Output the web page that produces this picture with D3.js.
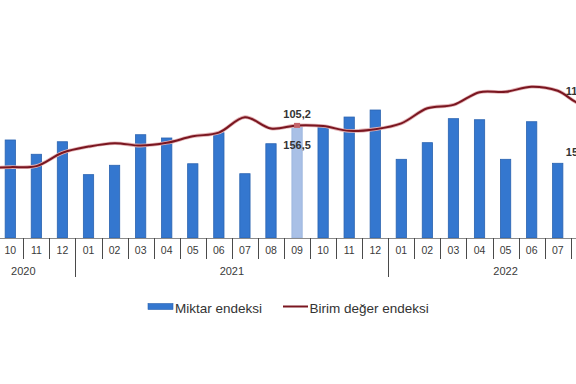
<!DOCTYPE html>
<html>
<head>
<meta charset="utf-8">
<script src="https://cdn.jsdelivr.net/npm/d3@7"></script>
<style>
  body { margin: 0; background: #fff; }
  svg { display: block; }
</style>
</head>
<body>
<svg id="chart"></svg>
<script>
const WIDTH = 576;
const HEIGHT = 384;

// months shown (first and last two fall outside the cropped frame)
const months = ["09", "10", "11", "12",
  "01", "02", "03", "04", "05", "06", "07", "08", "09", "10", "11", "12",
  "01", "02", "03", "04", "05", "06", "07", "08", "09"];
const years = ["2020", "2020", "2020", "2020",
  "2021", "2021", "2021", "2021", "2021", "2021", "2021", "2021", "2021", "2021", "2021", "2021",
  "2022", "2022", "2022", "2022", "2022", "2022", "2022", "2022", "2022"];
const yearNames = ["2020", "2021", "2022"];

// Miktar endeksi (bars)
const quantity = [147.0, 143.7, 131.5, 142.2,
  114.1, 122.1, 148.2, 145.4, 123.4, 149.9, 114.9, 140.5, 156.5, 155.0, 163.3, 169.3,
  127.2, 141.4, 161.9, 161.0, 127.2, 159.3, 123.8, 145.0, 156.0];
// Birim deger endeksi (line)
const unitValue = [92.8, 93.0, 93.3, 97.2,
  99.0, 100.0, 99.3, 100.1, 102.0, 103.1, 107.6, 104.3, 105.2, 105.0, 103.6, 104.1,
  105.8, 110.2, 111.2, 114.9, 115.0, 116.5, 115.3, 111.2, 115.6];

// highlighted months with data labels
const highlight = [12, 24];
const labelQuantity = ["156,5", "156,0"];
const labelUnit = ["105,2", "115,6"];

const svg = d3.select("#chart").attr("width", WIDTH).attr("height", HEIGHT);

const BASE_Y = 238;
const TOP_Y = 60;
const FONT = "'Liberation Sans', Arial, sans-serif";

const keys = months.map((m, i) => years[i] + "-" + m);

const x = d3.scaleBand().domain(keys).range([-28.8, 622.9]).paddingInner(0);
const yBar = d3.scaleLinear().domain([60, 212]).range([BASE_Y, TOP_Y]);
const yLine = d3.scaleLinear().domain([72.3, 124.3]).range([BASE_Y, TOP_Y]);

const BAR_W = 10.3;
const cx = (i) => x(keys[i]) + x.bandwidth() / 2;

// bars
svg.append("g")
  .selectAll("rect")
  .data(quantity)
  .join("rect")
  .attr("x", (d, i) => cx(i) - BAR_W / 2)
  .attr("y", (d) => yBar(d))
  .attr("width", BAR_W)
  .attr("height", (d) => BASE_Y - yBar(d))
  .attr("fill", (d, i) => highlight.includes(i) ? "#a9c0e6" : "#3477cf")
  .attr("stroke", (d, i) => highlight.includes(i) ? "#98b2dc" : "#2a63b0")
  .attr("stroke-width", 0.8);

// baseline
svg.append("line")
  .attr("x1", 0).attr("x2", WIDTH)
  .attr("y1", BASE_Y + 0.5).attr("y2", BASE_Y + 0.5)
  .attr("stroke", "#8a8a8a").attr("stroke-width", 1);

// category separators
const bounds = keys.slice(1).map((k, i) => ({ pos: x(k), year: years[i + 1] !== years[i] }));
svg.append("g")
  .selectAll("line")
  .data(bounds)
  .join("line")
  .attr("x1", (d) => Math.round(d.pos) + 0.5)
  .attr("x2", (d) => Math.round(d.pos) + 0.5)
  .attr("y1", BASE_Y)
  .attr("y2", (d) => d.year ? 277 : 259)
  .attr("stroke", "#4a4a4a")
  .attr("stroke-width", 1);

// month labels (only those inside the frame)
const visible = d3.range(months.length).filter((i) => cx(i) - 5 > 0 && cx(i) + 5 < WIDTH);
svg.append("g")
  .selectAll("text")
  .data(visible)
  .join("text")
  .attr("x", (i) => cx(i))
  .attr("y", 254)
  .attr("text-anchor", "middle")
  .style("font-family", FONT)
  .style("font-size", "10.5px")
  .attr("fill", "#3a3a3a")
  .text((i) => months[i]);

// year labels
svg.append("g")
  .selectAll("text")
  .data(yearNames)
  .join("text")
  .attr("x", (yr) => {
    const idx = years.map((v, i) => v === yr ? i : -1).filter((v) => v >= 0);
    const a = x(keys[idx[0]]);
    const b = x(keys[idx[idx.length - 1]]) + x.bandwidth();
    return (a + b) / 2;
  })
  .attr("y", 274.5)
  .attr("text-anchor", "middle")
  .style("font-family", FONT)
  .style("font-size", "11px")
  .attr("fill", "#3a3a3a")
  .text((d) => d);

// line
const lineF = d3.line()
  .x((d, i) => cx(i))
  .y((d) => yLine(d))
  .curve(d3.curveCatmullRom);

svg.append("path")
  .datum(unitValue)
  .attr("d", lineF)
  .attr("fill", "none")
  .style("stroke", "#e3b3b6")
  .style("stroke-width", "3.6");
svg.append("path")
  .datum(unitValue)
  .attr("d", lineF)
  .attr("fill", "none")
  .style("stroke", "#7a1620")
  .style("stroke-width", "2");

// marker on highlighted month
svg.append("rect")
  .attr("x", cx(highlight[0]) - 3)
  .attr("y", yLine(unitValue[highlight[0]]) - 2.5)
  .attr("width", 6)
  .attr("height", 5)
  .attr("fill", "#c4626a");

// data labels
const addLabel = (px, py, anchor, txt) =>
  svg.append("text")
    .attr("x", px).attr("y", py)
    .attr("text-anchor", anchor)
    .style("font-family", FONT).style("font-size", "11px").style("font-weight", "bold")
    .attr("fill", "#333")
    .text(txt);

addLabel(cx(highlight[0]), yLine(unitValue[highlight[0]]) - 7, "middle", labelUnit[0]);
addLabel(cx(highlight[0]), yBar(quantity[highlight[0]]) + 24, "middle", labelQuantity[0]);
// last month labels placed to the left of the point
addLabel(cx(highlight[1]) - 44, yLine(unitValue[highlight[1]]) + 5.5, "start", labelUnit[1]);
addLabel(cx(highlight[1]) - 44, yBar(quantity[highlight[1]]) + 30, "start", labelQuantity[1]);

// legend
const legend = svg.append("g").style("font-family", FONT).style("font-size", "13.5px");
legend.append("rect")
  .attr("x", 148).attr("y", 303.5).attr("width", 25).attr("height", 6)
  .attr("fill", "#3477cf").attr("stroke", "#2a63b0").attr("stroke-width", 0.6);
legend.append("text").attr("x", 175).attr("y", 313).attr("fill", "#333").text("Miktar endeksi");
legend.append("line")
  .attr("x1", 283).attr("x2", 308).attr("y1", 306.5).attr("y2", 306.5)
  .attr("stroke", "#7a1620").attr("stroke-width", 2);
legend.append("text").attr("x", 309.5).attr("y", 313).attr("fill", "#333").text("Birim değer endeksi");
</script>
</body>
</html>
